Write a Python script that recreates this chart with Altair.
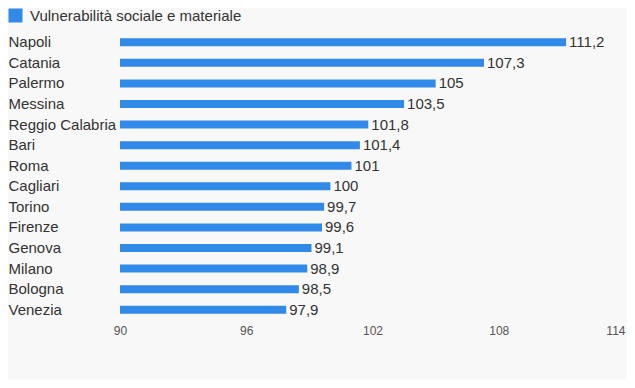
import altair as alt
import pandas as pd

cities = ["Napoli", "Catania", "Palermo", "Messina", "Reggio Calabria", "Bari", "Roma",
          "Cagliari", "Torino", "Firenze", "Genova", "Milano", "Bologna", "Venezia"]
values = [111.2, 107.3, 105, 103.5, 101.8, 101.4, 101, 100, 99.7, 99.6, 99.1, 98.9, 98.5, 97.9]
ticks = [90, 96, 102, 108, 114]
series = "Vulnerabilità sociale e materiale"

def fmt(v):
    s = ("%g" % v)
    return s.replace(".", ",")

df = pd.DataFrame({
    "city": cities,
    "value": values,
    "label": [fmt(v) for v in values],
    "series": [series] * len(cities),
})

FONT = "Liberation Sans"

x = alt.X("value:Q", scale=alt.Scale(domain=[90, 114], nice=False, zero=False),
          axis=alt.Axis(values=ticks, grid=False, domain=False, ticks=False,
                        labelFontSize=12, labelColor="#555555", labelPadding=5,
                        labelFont=FONT, title=None, labelFlush=False,
                        labelAlign=alt.expr("datum.value >= 114 ? 'right' : 'center'")))
y = alt.Y("city:N", sort=cities,
          scale=alt.Scale(paddingInner=0.6, paddingOuter=0.3),
          axis=alt.Axis(domain=False, ticks=False, labelAlign="left", labelPadding=112,
                        labelFontSize=15, labelColor="#333333", labelFont=FONT,
                        labelLimit=200, title=None))

bars = alt.Chart(df).mark_bar(size=8, color="#3189E8").encode(
    x=x, x2=alt.datum(90), y=y,
    color=alt.Color("series:N", scale=alt.Scale(range=["#3189E8"]),
                    legend=alt.Legend(title=None, orient="none", legendX=-112, legendY=-24,
                                      symbolType="square", symbolSize=196,
                                      symbolStrokeWidth=0, labelFontSize=15,
                                      labelColor="#333333", labelFont=FONT,
                                      labelOffset=7, padding=0, labelLimit=400)),
)

text = alt.Chart(df).mark_text(align="left", baseline="middle", dx=3, fontSize=15,
                               color="#333333", font=FONT).encode(
    x=alt.X("value:Q"), y=alt.Y("city:N", sort=cities), text="label:N")

chart = alt.layer(bars, text).properties(
    width=505, height=288,
    autosize=alt.AutoSizeParams(type="none"),
    padding={"left": 112, "top": 24, "right": 2, "bottom": 60},
    background="#f8f8f8",
).configure_view(stroke=None)

chart.save("out.html", embed_options={"renderer": "svg", "actions": False})
